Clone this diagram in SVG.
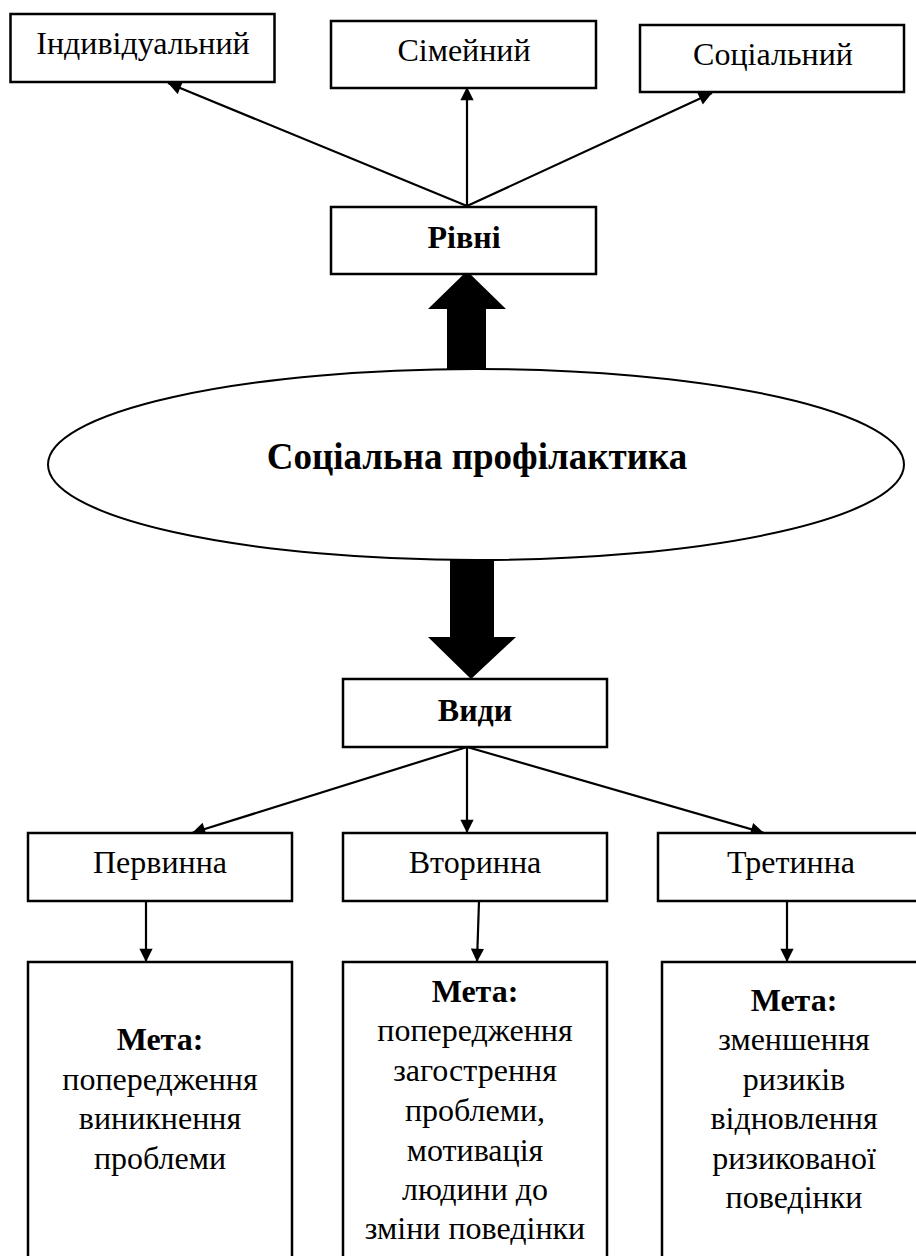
<svg xmlns="http://www.w3.org/2000/svg" width="916" height="1256" viewBox="0 0 916 1256">
<defs>
<style>
.box{fill:#fff;stroke:#000;stroke-width:2.5}
.t{font-family:"Liberation Serif","Times New Roman",serif;font-size:32px;fill:#000;text-anchor:middle}
.b{font-weight:bold}
.ln{stroke:#000;stroke-width:2.2;fill:none;marker-end:url(#ah)}
</style>
<marker id="ah" viewBox="0 0 10 10" refX="10" refY="5" markerWidth="7" markerHeight="6" markerUnits="strokeWidth" orient="auto">
<path d="M0,0 L10,5 L0,10 Z" fill="#000"/>
</marker>
</defs>
<rect width="916" height="1256" fill="#fff"/>
<g id="connectors">
<line class="ln" x1="467" y1="206" x2="168" y2="83"/>
<line class="ln" x1="467" y1="206" x2="467" y2="87"/>
<line class="ln" x1="467" y1="206" x2="712" y2="93"/>
<path d="M447,369 L447,309 L428,309 L467,271 L506,309 L486,309 L486,369 Z" fill="#000"/>
<path d="M450,560 L450,637 L428,637 L471,679 L516,637 L494,637 L494,560 Z" fill="#000"/>
<line class="ln" x1="467" y1="747" x2="192" y2="833"/>
<line class="ln" x1="467" y1="747" x2="467" y2="833"/>
<line class="ln" x1="467" y1="747" x2="764" y2="833"/>
<line class="ln" x1="146" y1="901" x2="146" y2="962"/>
<line class="ln" x1="479" y1="901" x2="477" y2="962"/>
<line class="ln" x1="787" y1="901" x2="787" y2="962"/>
</g>
<g id="n-ind"><rect class="box" x="10.5" y="14" width="264" height="68"/><text class="t" x="143" y="54">Індивідуальний</text></g>
<g id="n-sim"><rect class="box" x="331" y="21" width="265" height="67"/><text class="t" x="464" y="61">Сімейний</text></g>
<g id="n-soc"><rect class="box" x="640" y="25" width="264" height="67"/><text class="t" x="773" y="65">Соціальний</text></g>
<g id="n-rivni"><rect class="box" x="331" y="207" width="265" height="67"/><text class="t b" x="464" y="248">Рівні</text></g>
<g id="n-main"><ellipse cx="476" cy="464.5" rx="428" ry="95.5" fill="#fff" stroke="#000" stroke-width="2"/><text class="t b" x="477" y="469" style="font-size:37px">Соціальна профілактика</text></g>
<g id="n-vydy"><rect class="box" x="343" y="679" width="264" height="68"/><text class="t b" x="475" y="721">Види</text></g>
<g id="n-perv"><rect class="box" x="28" y="833" width="264" height="68"/><text class="t" x="160" y="873">Первинна</text></g>
<g id="n-vtor"><rect class="box" x="343" y="833" width="264" height="68"/><text class="t" x="475" y="873">Вторинна</text></g>
<g id="n-tret"><rect class="box" x="658" y="833" width="262" height="68"/><text class="t" x="791" y="873">Третинна</text></g>
<g id="n-g1"><rect class="box" x="28" y="962" width="264" height="310"/>
<text class="t b" x="160" y="1050">Мета:</text>
<text class="t" x="160" y="1090">попередження</text>
<text class="t" x="160" y="1129">виникнення</text>
<text class="t" x="160" y="1169">проблеми</text></g>
<g id="n-g2"><rect class="box" x="343" y="962" width="264" height="310"/>
<text class="t b" x="475" y="1002">Мета:</text>
<text class="t" x="475" y="1041">попередження</text>
<text class="t" x="475" y="1081">загострення</text>
<text class="t" x="475" y="1121">проблеми,</text>
<text class="t" x="475" y="1161">мотивація</text>
<text class="t" x="475" y="1200">людини до</text>
<text class="t" x="475" y="1239">зміни поведінки</text></g>
<g id="n-g3"><rect class="box" x="662" y="962" width="262" height="310"/>
<text class="t b" x="794" y="1011">Мета:</text>
<text class="t" x="794" y="1050">зменшення</text>
<text class="t" x="794" y="1090">ризиків</text>
<text class="t" x="794" y="1129">відновлення</text>
<text class="t" x="794" y="1169">ризикованої</text>
<text class="t" x="794" y="1208">поведінки</text></g>
</svg>
